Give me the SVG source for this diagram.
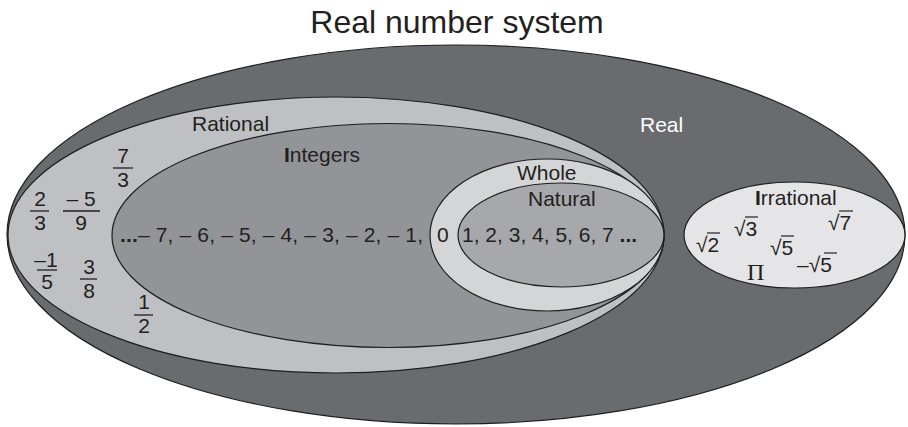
<svg xmlns="http://www.w3.org/2000/svg" width="908" height="427" viewBox="0 0 908 427">
<style>
.e{stroke:#1e1e1e;stroke-width:1.2}
text{font-family:"Liberation Sans",Arial,sans-serif;fill:#231f20}
.lab{font-size:21px}
.num{font-size:21px;text-anchor:middle}
.bar{stroke:#231f20;stroke-width:1.3}
.rt{stroke:#231f20;stroke-width:1.2}
</style>
<rect width="908" height="427" fill="#ffffff"/>
<text x="457" y="33" font-size="32" text-anchor="middle">Real number system</text>
<g id="real">
<ellipse class="e" cx="456" cy="234.5" rx="449" ry="189.5" fill="#6a6b6f"/>
<text class="lab" x="640" y="132" style="fill:#ffffff">Real</text>
</g>
<g id="rational">
<ellipse class="e" cx="336" cy="235" rx="328" ry="138" fill="#bfc0c3"/>
<text class="lab" x="192" y="131">Rational</text>
<text class="num" x="123" y="163">7</text>
<line class="bar" x1="113" y1="168" x2="133" y2="168"/>
<text class="num" x="123" y="187">3</text>
<text class="num" x="40" y="206">2</text>
<line class="bar" x1="30" y1="211" x2="49" y2="211"/>
<text class="num" x="81" y="206">– 5</text>
<line class="bar" x1="63" y1="211" x2="100" y2="211"/>
<text class="num" x="40" y="230">3</text>
<text class="num" x="81" y="230">9</text>
<text class="num" x="46" y="267">–1</text>
<line class="bar" x1="37" y1="270" x2="57" y2="270"/>
<text class="num" x="47" y="289">5</text>
<text class="num" x="89" y="274">3</text>
<line class="bar" x1="80" y1="279" x2="97" y2="279"/>
<text class="num" x="89" y="298">8</text>
<text class="num" x="144" y="309">1</text>
<line class="bar" x1="134" y1="315" x2="153" y2="315"/>
<text class="num" x="144" y="333">2</text>
</g>
<g id="integers">
<ellipse class="e" cx="388" cy="235.5" rx="276" ry="112" fill="#939498"/>
<text class="lab" x="284" y="162"><tspan font-weight="bold">I</tspan>ntegers</text>
<text class="lab" x="120" y="242" textLength="303" lengthAdjust="spacing"><tspan font-weight="bold">...</tspan>– 7, – 6, – 5, – 4, – 3, – 2, – 1,</text>
</g>
<g id="whole">
<ellipse class="e" cx="547" cy="235" rx="117" ry="76" fill="#d4d5d7"/>
<text class="lab" x="517" y="180">Whole</text>
<text class="lab" x="437" y="242">0</text>
</g>
<g id="natural">
<ellipse class="e" cx="561" cy="235" rx="103" ry="52" fill="#a7a8ab"/>
<text class="lab" x="528" y="206">Natural</text>
<text class="lab" x="462" y="242">1, 2, 3, 4, 5, 6, 7 <tspan font-weight="bold">...</tspan></text>
</g>
<g id="irrational">
<ellipse class="e" cx="794.5" cy="235" rx="110.5" ry="53" fill="#e5e5e7"/>
<text class="lab" x="755" y="205"><tspan font-weight="bold">I</tspan>rrational</text>
<text class="lab" x="696" y="252">√2</text>
<line class="rt" x1="707" y1="233" x2="720" y2="233"/>
<text class="lab" x="734" y="236">√3</text>
<line class="rt" x1="745" y1="217" x2="758" y2="217"/>
<text class="lab" x="828" y="230">√7</text>
<line class="rt" x1="839" y1="211" x2="853" y2="211"/>
<text class="lab" x="770" y="255">√5</text>
<line class="rt" x1="781" y1="236" x2="794" y2="236"/>
<text x="747" y="280" font-size="24" style="font-family:'Liberation Serif','Times New Roman',serif">Π</text>
<text class="lab" x="797" y="272">–√5</text>
<line class="rt" x1="824" y1="253" x2="837" y2="253"/>
</g>
</svg>
